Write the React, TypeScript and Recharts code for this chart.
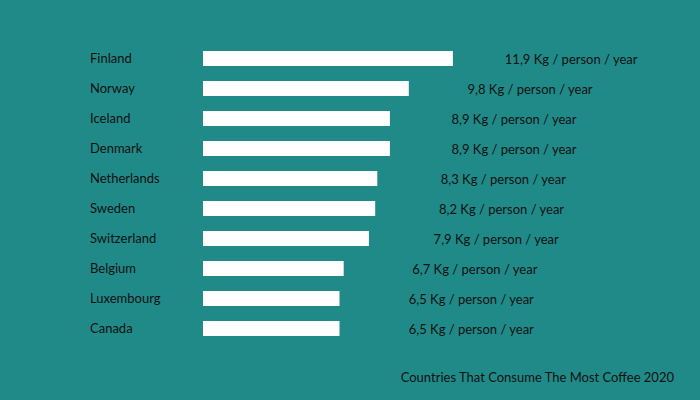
import React from "react";
import { BarChart, Bar, XAxis, YAxis, LabelList } from "recharts";

const countries = ["Finland", "Norway", "Iceland", "Denmark", "Netherlands", "Sweden", "Switzerland", "Belgium", "Luxembourg", "Canada"];
const consumption = [11.9, 9.8, 8.9, 8.9, 8.3, 8.2, 7.9, 6.7, 6.5, 6.5];
const unit = "Kg / person / year";
const title = "Countries That Consume The Most Coffee 2020";

const data = countries.map((c, i) => ({ country: c, value: consumption[i] }));

const FONT = "Lato, 'Noto Sans', sans-serif";
const TEXT = "#111";

const CountryTick = (props: any) => {
  const { y, payload } = props;
  return (
    <text x={90} y={y} dy={5} textAnchor="start" fontFamily={FONT} fontSize={13} fill={TEXT}>
      {payload.value}
    </text>
  );
};

const ValueLabel = (props: any) => {
  const { x, y, width, height, value } = props;
  const lx = x + width * (17.8 / 21) + 90;
  return (
    <text x={lx} y={y + height / 2} dy={5} textAnchor="start" fontFamily={FONT} fontSize={13} fill={TEXT}>
      {String(Number(value).toFixed(1)).replace(".", ",") + " " + unit}
    </text>
  );
};

export default function App() {
  return (
    <div style={{ position: "fixed", left: 0, top: 0, width: 700, height: 400, background: "#208a88" }}>
      <BarChart
        width={700}
        height={400}
        data={data}
        layout="vertical"
        margin={{ top: 43, right: 245, bottom: 57, left: 90 }}
        barCategoryGap={7}
      >
        <XAxis type="number" domain={[0, 12]} hide />
        <YAxis
          type="category"
          dataKey="country"
          width={113}
          axisLine={false}
          tickLine={false}
          tick={<CountryTick />}
          interval={0}
        />
        <Bar dataKey="value" fill="#ffffff" barSize={15} isAnimationActive={false}>
          <LabelList dataKey="value" content={<ValueLabel />} />
        </Bar>
      </BarChart>
      <div
        style={{
          position: "absolute",
          right: 26,
          top: 369,
          fontFamily: FONT,
          fontSize: 13,
          color: TEXT,
          whiteSpace: "nowrap",
        }}
      >
        {title}
      </div>
    </div>
  );
}
